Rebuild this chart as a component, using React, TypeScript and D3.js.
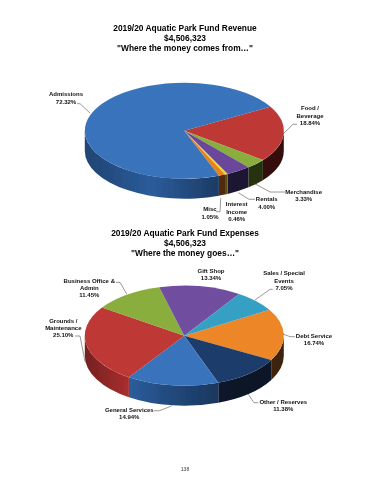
import React from "react";
import * as d3 from "d3";

const revenueNames = ["Food / Beverage", "Merchandise", "Rentals", "Interest Income", "Misc", "Admissions"];
const revenueValues = [18.84, 3.33, 4.0, 0.46, 1.05, 72.32];
const revenueColors = ["#c63a38", "#8fb53e", "#6f4aa0", "#f8e41c", "#f08820", "#3a78c4"];
const revenueSides = ["#5e1616", "#3f5218", "#2c2050", "#8a7a10", "#7c3f0c", "#2a5a98"];

const expenseNames = ["Debt Service", "Other / Reserves", "General Services", "Grounds / Maintenance", "Business Office & Admin", "Gift Shop", "Sales / Special Events"];
const expenseValues = [16.74, 11.38, 14.94, 25.1, 11.45, 13.34, 7.05];
const expenseColors = ["#f68c2a", "#1d3f70", "#3a78c4", "#c63a38", "#8fb53e", "#7650a6", "#36a6cc"];
const expenseSides = ["#6e3c0c", "#0d2240", "#27548e", "#9a2a2a", "#556b20", "#3c2a5c", "#1c5c70"];

type Lab = { lines: string[]; x: number; y: number; lead: number[][] };
const revenueLabels: Lab[] = [
  { lines: ["Admissions", "72.32%"], x: 66, y: 94.3, lead: [[77, 103.7], [80, 103.7], [90, 113]] },
  { lines: ["Food /", "Beverage", "18.84%"], x: 310, y: 108.3, lead: [[297, 124.3], [293, 124.3], [283, 134]] },
  { lines: ["Merchandise", "3.33%"], x: 303.7, y: 191.7, lead: [[285, 192], [270, 192], [253, 182.7]] },
  { lines: ["Rentals", "4.00%"], x: 266.7, y: 199.3, lead: [[255, 199.3], [249, 199.3], [238.3, 192.7]] },
  { lines: ["Interest", "Income", "0.46%"], x: 236.7, y: 204.3, lead: [] },
  { lines: ["Misc", "1.05%"], x: 210, y: 209.3, lead: [[216, 211.7], [220, 211.7], [220.7, 198.3]] },
];
const expenseLabels: Lab[] = [
  { lines: ["Gift Shop", "13.34%"], x: 211, y: 271, lead: [] },
  { lines: ["Sales / Special", "Events", "7.05%"], x: 284, y: 273.3, lead: [[272.7, 289.3], [270, 289.3], [255, 300]] },
  { lines: ["Business Office &", "Admin", "11.45%"], x: 89.3, y: 281, lead: [[116, 282.3], [120, 282.3], [126.7, 294]] },
  { lines: ["Grounds /", "Maintenance", "25.10%"], x: 63.3, y: 321, lead: [[75, 336], [80, 336], [85, 361.7]] },
  { lines: ["Debt Service", "16.74%"], x: 314, y: 335.7, lead: [[295, 336.7], [290, 336.7], [283, 334]] },
  { lines: ["Other / Reserves", "11.38%"], x: 283.3, y: 402, lead: [[258.3, 402.7], [254, 402.7], [248.3, 394.3]] },
  { lines: ["General Services", "14.94%"], x: 129.3, y: 410, lead: [[154, 410.7], [159.3, 410.7], [171.7, 406]] },
];

const FONT = "'Liberation Sans', Arial, sans-serif";
const rad = Math.PI / 180;

function Pie3D(props: {
  id: string; cx: number; cy: number; rx: number; ry: number; depth: number; startDeg: number;
  values: number[]; names: string[]; colors: string[]; sides: string[];
}) {
  const { id, cx, cy, rx, ry, depth, startDeg, values, names, colors, sides } = props;
  const slices = d3.pie<number>().sort(null).startAngle(startDeg * rad).endAngle((startDeg + 360) * rad)(values);
  const arc = d3.arc<d3.PieArcDatum<number>>().innerRadius(0).outerRadius(1);
  const px = (a: number) => rx * Math.sin(a);
  const py = (a: number) => -ry * Math.cos(a);
  const ranges = slices.flatMap((s, i) => {
    const out: { i: number; a0: number; a1: number }[] = [];
    for (const k of [0, 1]) {
      const lo = Math.max(s.startAngle, Math.PI / 2 + k * 2 * Math.PI);
      const hi = Math.min(s.endAngle, (3 * Math.PI) / 2 + k * 2 * Math.PI);
      if (hi > lo) out.push({ i, a0: lo, a1: hi });
    }
    return out;
  });
  const shade = d3.scaleLinear<number>().domain([-rx, -rx * 0.5, rx * 0.1, rx]).range([0.75, 1.15, 0.7, 0.55]);
  return (
    <g transform={`translate(${cx},${cy})`}>
      <defs>
        {ranges.map((r, n) => {
          const x0 = px(r.a1), x1 = px(r.a0);
          return (
            <linearGradient key={n} id={`${id}-s${n}`} gradientUnits="userSpaceOnUse" x1={x0} x2={x1} y1={0} y2={0}>
              {[0, 0.5, 1].map((t) => {
                const x = x0 + (x1 - x0) * t;
                return <stop key={t} offset={t} stopColor={d3.color(sides[r.i])!.brighter(Math.log(shade(x)) / Math.log(0.7) * -1).formatHex()} />;
              })}
            </linearGradient>
          );
        })}
        <radialGradient id={`${id}-glow`} gradientUnits="userSpaceOnUse" cx={0} cy={0} r={1} gradientTransform={`scale(${rx},${ry})`}>
          <stop offset={0} stopColor="#000" stopOpacity={0.04} />
          <stop offset={0.8} stopColor="#fff" stopOpacity={0.03} />
          <stop offset={1} stopColor="#000" stopOpacity={0.04} />
        </radialGradient>
      </defs>
      {ranges.map((r, n) => (
        <path
          key={n}
          fill={`url(#${id}-s${n})`}
          d={`M${px(r.a0)},${py(r.a0)}A${rx},${ry} 0 0 1 ${px(r.a1)},${py(r.a1)}L${px(r.a1)},${py(r.a1) + depth}A${rx},${ry} 0 0 0 ${px(r.a0)},${py(r.a0) + depth}Z`}
        />
      ))}
      <g transform={`scale(${rx},${ry})`}>
        {slices.map((s, i) => (
          <path key={names[i]} d={arc(s) as string} fill={colors[i]} />
        ))}
        <circle r={1} fill={`url(#${id}-glow)`} />
      </g>
    </g>
  );
}

function Labels({ items }: { items: Lab[] }) {
  const line = d3.line();
  return (
    <g>
      {items.map((l) => (
        <g key={l.lines[0]}>
          {l.lead.length > 0 && <path d={line(l.lead as [number, number][]) as string} fill="none" stroke="#444" strokeWidth={0.55} />}
          {l.lines.map((t, i) => (
            <text key={i} x={l.x} y={l.y + i * 7.2 + 2} textAnchor="middle" fontSize={6} fontWeight="bold" fontFamily={FONT} fill="#111">{t}</text>
          ))}
        </g>
      ))}
    </g>
  );
}

function Title({ lines, y }: { lines: string[]; y: number }) {
  return (
    <g>
      {lines.map((t, i) => (
        <text key={i} x={185} y={y + i * 10.3} textAnchor="middle" fontSize={8.4} fontWeight="bold" fontFamily={FONT} fill="#000">{t}</text>
      ))}
    </g>
  );
}

export default function App() {
  return (
    <svg width={370} height={480} viewBox="0 0 370 480" style={{ position: "absolute", left: 0, top: 0, background: "#fff" }}>
      <defs>
        <filter id="soft" x="-5%" y="-5%" width="110%" height="110%">
          <feGaussianBlur stdDeviation={0.25} />
        </filter>
      </defs>
      <g filter="url(#soft)">
        <Title lines={["2019/20 Aquatic Park Fund Revenue", "$4,506,323", "\"Where the money comes from…\""]} y={30.8} />
        <Pie3D id="rev" cx={184.3} cy={130.7} rx={99.5} ry={48} depth={20} startDeg={60}
          values={revenueValues} names={revenueNames} colors={revenueColors} sides={revenueSides} />
        <Labels items={revenueLabels} />
        <Title lines={["2019/20 Aquatic Park Fund Expenses", "$4,506,323", "\"Where the money goes…\""]} y={235.8} />
        <Pie3D id="exp" cx={184.3} cy={335.7} rx={99.5} ry={50} depth={20} startDeg={58.8}
          values={expenseValues} names={expenseNames} colors={expenseColors} sides={expenseSides} />
        <Labels items={expenseLabels} />
        <text x={185} y={471} textAnchor="middle" fontSize={5} fontFamily={FONT} fill="#333">138</text>
      </g>
    </svg>
  );
}
